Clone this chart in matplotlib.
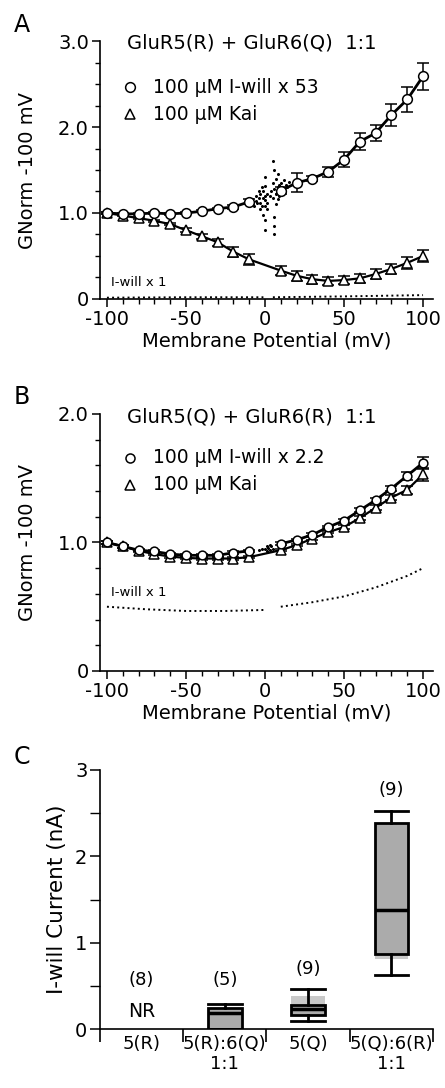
import numpy as np
import matplotlib
matplotlib.use("Agg")
import matplotlib.pyplot as plt
from matplotlib.ticker import MultipleLocator

# panel A: GluR5(R) + GluR6(Q)
vm_neg = [-100, -90, -80, -70, -60, -50, -40, -30, -20, -10]
vm_pos = [10, 20, 30, 40, 50, 60, 70, 80, 90, 100]

a_iwill_neg = [1.00, 0.99, 0.99, 1.00, 0.99, 1.00, 1.02, 1.05, 1.07, 1.13]
a_iwill_pos = [1.26, 1.35, 1.40, 1.48, 1.62, 1.83, 1.93, 2.14, 2.32, 2.59]
a_iwill_err_neg = [0.01, 0.01, 0.01, 0.01, 0.01, 0.01, 0.01, 0.01, 0.02, 0.03]
a_iwill_err_pos = [0.04, 0.11, 0.03, 0.06, 0.09, 0.10, 0.09, 0.13, 0.15, 0.16]

a_kai_neg = [1.00, 0.97, 0.94, 0.91, 0.87, 0.80, 0.73, 0.66, 0.55, 0.46]
a_kai_pos = [0.33, 0.27, 0.23, 0.21, 0.22, 0.24, 0.29, 0.35, 0.42, 0.50]
a_kai_err_neg = [0.01, 0.01, 0.01, 0.01, 0.01, 0.02, 0.03, 0.04, 0.06, 0.06]
a_kai_err_pos = [0.05, 0.06, 0.05, 0.05, 0.05, 0.05, 0.06, 0.06, 0.07, 0.07]

# scattered sweep points around the reversal potential
a_noise_x = [-9, -8, -7, -6, -5, -4, -3, -2, -1, -1, 0, 0, 0, 0, 0, 1, 1,
             5, 5, 6, 6, 6, 6, 7, 7, 8, 8, 9, 10, 11, 12, 4, 3, -2, -3,
             -6, -4, -3, -1, 0, 0, 1, 5, 6, 7, 8, 9, 11, 13, 14, 15]
a_noise_y = [1.10, 1.16, 1.08, 1.20, 1.12, 1.25, 1.05, 1.30, 1.18, 0.98,
             1.42, 1.31, 1.15, 0.92, 0.80, 1.22, 1.05, 1.60, 1.35, 1.50,
             0.95, 0.85, 0.75, 1.40, 1.10, 1.30, 1.45, 1.20, 1.35, 1.28,
             1.38, 1.25, 1.20, 1.08, 1.22, 1.14, 1.18, 1.12, 1.25, 1.08,
             1.20, 1.12, 1.18, 1.28, 1.22, 1.16, 1.32, 1.24, 1.32, 1.30, 1.36]

a_raw_x_neg = [-100, -50, -1]
a_raw_y_neg = [0.015, 0.02, 0.02]
a_raw_x_pos = [5, 50, 100]
a_raw_y_pos = [0.02, 0.03, 0.045]

# panel B: GluR5(Q) + GluR6(R)
b_iwill_neg = [1.00, 0.97, 0.94, 0.93, 0.91, 0.90, 0.90, 0.90, 0.92, 0.935]
b_iwill_pos = [0.99, 1.02, 1.06, 1.12, 1.17, 1.25, 1.33, 1.42, 1.52, 1.62]
b_iwill_err = [0.01, 0.01, 0.01, 0.01, 0.01, 0.01, 0.01, 0.01, 0.01, 0.01,
               0.01, 0.01, 0.01, 0.01, 0.015, 0.015, 0.02, 0.02, 0.03, 0.045]

b_kai_neg = [1.00, 0.97, 0.935, 0.91, 0.89, 0.88, 0.875, 0.875, 0.875, 0.886]
b_kai_pos = [0.94, 0.98, 1.03, 1.08, 1.12, 1.19, 1.27, 1.35, 1.41, 1.53]
b_kai_err = [0.01, 0.01, 0.01, 0.01, 0.01, 0.01, 0.01, 0.01, 0.01, 0.01,
             0.01, 0.01, 0.01, 0.01, 0.015, 0.015, 0.02, 0.02, 0.03, 0.05]

b_noise_x = [0, 1, 2, 3, 4, 5, 1, 3, -2, -4]
b_noise_y = [0.95, 0.97, 0.96, 0.94, 0.97, 0.95, 0.93, 0.98, 0.95, 0.94]

b_raw_x_neg = [-100, -75, -50, -25, 0]
b_raw_y_neg = [0.50, 0.48, 0.467, 0.467, 0.475]
b_raw_x_pos = [10, 30, 50, 70, 90, 100]
b_raw_y_pos = [0.50, 0.535, 0.58, 0.65, 0.74, 0.80]

# panel C: I-will current box plots
groups = ["5(R)", "5(R):6(Q)\n1:1", "5(Q)", "5(Q):6(R)\n1:1"]
n_cells = ["(8)", "(5)", "(9)", "(9)"]
n_label_y = [0.57, 0.57, 0.70, 2.77]
box_whislo = [0.0, 0.09, 0.63]
box_q1 = [0.0, 0.16, 0.87]
box_med = [0.18, 0.23, 1.38]
box_q3 = [0.245, 0.28, 2.39]
box_whishi = [0.29, 0.46, 2.53]
box_pos = [1.5, 2.5, 3.5]
shade_lo = [0.0, 0.15, 0.81]
shade_hi = [0.245, 0.38, 2.39]

plt.rcParams["font.family"] = "DejaVu Sans"
plt.rcParams["font.size"] = 14
plt.rcParams["axes.unicode_minus"] = False


def style_axes(ax):
    for s in ["top", "right"]:
        ax.spines[s].set_visible(False)
    for s in ["left", "bottom"]:
        ax.spines[s].set_linewidth(1.2)
    ax.tick_params(which="major", direction="out", length=6, width=1.1, labelsize=14, pad=2)
    ax.tick_params(which="minor", direction="out", length=3.5, width=1.0)


def iv_panel(ax, iw_neg, iw_pos, iw_err_neg, iw_err_pos, k_neg, k_pos, k_err_neg, k_err_pos,
             nx, ny, rx_neg, ry_neg, rx_pos, ry_pos, msize):
    vm = vm_neg + vm_pos
    # dense traces behind the averaged points
    ax.plot(vm_neg, iw_neg, "-", color="black", lw=2, zorder=2)
    ax.plot(vm_pos, iw_pos, "-", color="black", lw=2, zorder=2)
    ax.plot(vm, k_neg + k_pos, "-", color="black", lw=1.6, zorder=2)
    ax.plot(nx, ny, "o", color="black", ms=1.2, lw=0, zorder=2)
    # I-will x 1 raw trace
    ax.plot(rx_neg, ry_neg, ":", color="black", lw=1.4)
    ax.plot(rx_pos, ry_pos, ":", color="black", lw=1.4)
    ax.errorbar(vm, k_neg + k_pos, yerr=k_err_neg + k_err_pos, fmt="^", ms=msize + 0.5,
                mfc="white", mec="black", mew=1.1, ecolor="black", elinewidth=1.1,
                capsize=4, capthick=1.1, zorder=3)
    ax.errorbar(vm, iw_neg + iw_pos, yerr=iw_err_neg + iw_err_pos, fmt="o", ms=msize,
                mfc="white", mec="black", mew=1.1, ecolor="black", elinewidth=1.1,
                capsize=4, capthick=1.1, zorder=4)
    ax.set_xlim(-104.4, 106.3)
    ax.set_xticks([-100, -50, 0, 50, 100])
    ax.xaxis.set_minor_locator(MultipleLocator(10))
    ax.set_xlabel("Membrane Potential (mV)", fontsize=14, labelpad=2)
    ax.set_ylabel("GNorm -100 mV", fontsize=14, labelpad=15)
    style_axes(ax)


def main():
    fig = plt.figure(figsize=(4.45, 10.88), dpi=100)

    # ---- A
    axA = fig.add_axes([0.2247, 0.7252, 0.7483, 0.2371])
    iv_panel(axA, a_iwill_neg, a_iwill_pos, a_iwill_err_neg, a_iwill_err_pos,
             a_kai_neg, a_kai_pos, a_kai_err_neg, a_kai_err_pos,
             a_noise_x, a_noise_y, a_raw_x_neg, a_raw_y_neg, a_raw_x_pos, a_raw_y_pos, 7)
    axA.set_ylim(0, 3.0)
    axA.set_yticks([0, 1, 2, 3])
    axA.set_yticklabels(["0", "1.0", "2.0", "3.0"])
    axA.yaxis.set_minor_locator(MultipleLocator(0.25))
    axA.text(-87.3, 2.98, "GluR5(R) + GluR6(Q)  1:1", fontsize=14, va="center")
    axA.plot([-85.4], [2.465], "o", ms=7, mfc="white", mec="black", mew=1.1)
    axA.text(-70.8, 2.465, "100 \u00b5M I-will x 53", fontsize=13.5, va="center")
    axA.plot([-85.4], [2.15], "^", ms=7, mfc="white", mec="black", mew=1.1)
    axA.text(-70.8, 2.15, "100 \u00b5M Kai", fontsize=13.5, va="center")
    axA.text(-97.4, 0.19, "I-will x 1", fontsize=9.5, va="center")

    # ---- B
    axB = fig.add_axes([0.2247, 0.3833, 0.7483, 0.2362])
    iv_panel(axB, b_iwill_neg, b_iwill_pos, b_iwill_err[:10], b_iwill_err[10:],
             b_kai_neg, b_kai_pos, b_kai_err[:10], b_kai_err[10:],
             b_noise_x, b_noise_y, b_raw_x_neg, b_raw_y_neg, b_raw_x_pos, b_raw_y_pos, 6.3)
    axB.set_ylim(0, 2.0)
    axB.set_yticks([0, 1, 2])
    axB.set_yticklabels(["0", "1.0", "2.0"])
    axB.yaxis.set_minor_locator(MultipleLocator(0.2))
    axB.text(-87.3, 1.98, "GluR5(Q) + GluR6(R)  1:1", fontsize=14, va="center")
    axB.plot([-85.4], [1.66], "o", ms=6.5, mfc="white", mec="black", mew=1.1)
    axB.text(-70.8, 1.66, "100 \u00b5M I-will x 2.2", fontsize=13.5, va="center")
    axB.plot([-85.4], [1.45], "^", ms=6.5, mfc="white", mec="black", mew=1.1)
    axB.text(-70.8, 1.45, "100 \u00b5M Kai", fontsize=13.5, va="center")
    axB.text(-97.4, 0.61, "I-will x 1", fontsize=9.5, va="center")

    # ---- C
    axC = fig.add_axes([0.2247, 0.0542, 0.7483, 0.2381])
    axC.bar(box_pos, np.array(shade_hi) - np.array(shade_lo), bottom=shade_lo,
            width=0.4, color="#c9c9c9", lw=0, zorder=1)
    stats = []
    for i in range(len(box_pos)):
        stats.append({"whislo": box_whislo[i], "q1": box_q1[i], "med": box_med[i],
                      "q3": box_q3[i], "whishi": box_whishi[i], "fliers": []})
    axC.bxp(stats, positions=box_pos, widths=0.4, patch_artist=True, showfliers=False,
            boxprops=dict(facecolor="#ababab", edgecolor="black", lw=2),
            medianprops=dict(color="black", lw=2.5),
            whiskerprops=dict(color="black", lw=2),
            capprops=dict(color="black", lw=2), capwidths=0.4,
            manage_ticks=False, zorder=2)
    for i in range(len(groups)):
        axC.text(i + 0.5, n_label_y[i], n_cells[i], fontsize=13, ha="center", va="center")
    axC.text(0.5, 0.2, "NR", fontsize=13.5, ha="center", va="center")
    axC.set_xlim(0, 4)
    axC.set_ylim(0, 3)
    axC.set_xticks([0, 1, 2, 3, 4])
    axC.set_xticklabels([])
    axC.set_xticks([0.5, 1.5, 2.5, 3.5], minor=True)
    axC.set_xticklabels(groups, minor=True, fontsize=13)
    axC.set_yticks([0, 1, 2, 3])
    axC.yaxis.set_minor_locator(MultipleLocator(0.5))
    axC.set_ylabel("I-will Current (nA)", fontsize=15.5, labelpad=6)
    style_axes(axC)
    axC.tick_params(axis="x", which="major", length=9, width=1.2)
    axC.tick_params(axis="x", which="minor", length=0, labelsize=13, pad=4)
    axC.tick_params(axis="y", which="major", length=7)
    axC.tick_params(axis="y", which="minor", length=7)

    fig.text(0.050, 1 - 25 / 1088, "A", fontsize=17, ha="center", va="center")
    fig.text(0.050, 1 - 397 / 1088, "B", fontsize=17, ha="center", va="center")
    fig.text(0.050, 1 - 757 / 1088, "C", fontsize=17, ha="center", va="center")

    fig.savefig("out.png", dpi=100)
    return


main()
